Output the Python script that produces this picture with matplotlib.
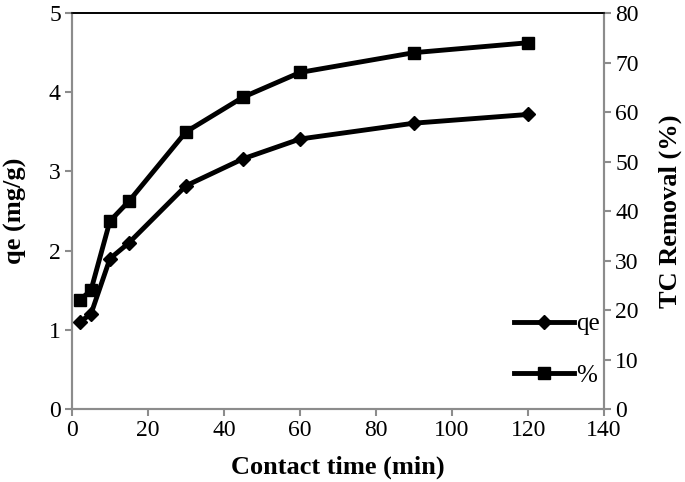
import numpy as np
import matplotlib.pyplot as plt

plt.rcParams['font.family'] = ['Liberation Serif', 'DejaVu Serif']

# contact time (min)
t = [2, 5, 10, 15, 30, 45, 60, 90, 120]
qe = [1.1, 1.2, 1.9, 2.1, 2.82, 3.16, 3.41, 3.61, 3.72]
removal = [22, 24, 38, 42, 56, 63, 68, 72, 74]

grey = '#8c8c8c'

fig = plt.figure(figsize=(6.85, 4.82), dpi=100)
ax = fig.add_axes([0.105, 0.151, 0.777, 0.822])
ax2 = ax.twinx()

l1, = ax.plot(t, qe, color='black', lw=3.5, marker='D', ms=7, label='qe')
l2, = ax2.plot(t, removal, color='black', lw=3.5, marker='s', ms=9, label='%')

ax.set_xlim(0, 140)
ax.set_xticks(np.arange(0, 141, 20))
ax.set_ylim(0, 5)
ax.set_yticks(np.arange(0, 6, 1))
ax2.set_ylim(0, 80)
ax2.set_yticks(np.arange(0, 81, 10))

for a in (ax, ax2):
    for s in ('left', 'right', 'bottom'):
        a.spines[s].set_color(grey)
        a.spines[s].set_linewidth(1.5)
    a.spines['top'].set_color('black')
    a.spines['top'].set_linewidth(1.2)
    a.tick_params(direction='out', color=grey, width=1.5, length=5,
                  labelsize=17, pad=3)

ax.set_xlabel('Contact time (min)', fontsize=19, fontweight='bold', labelpad=10)
ax.set_ylabel('qe (mg/g)', fontsize=19, fontweight='bold', labelpad=16)
ax2.set_ylabel('TC Removal (%)', fontsize=19, fontweight='bold', labelpad=14)

ax2.legend(handles=[l1, l2], loc='lower right', bbox_to_anchor=(1.035, 0.0),
           frameon=False, fontsize=18, handlelength=2.4, handletextpad=0.1,
           labelspacing=1.15)

fig.savefig('out.png', dpi=100)
